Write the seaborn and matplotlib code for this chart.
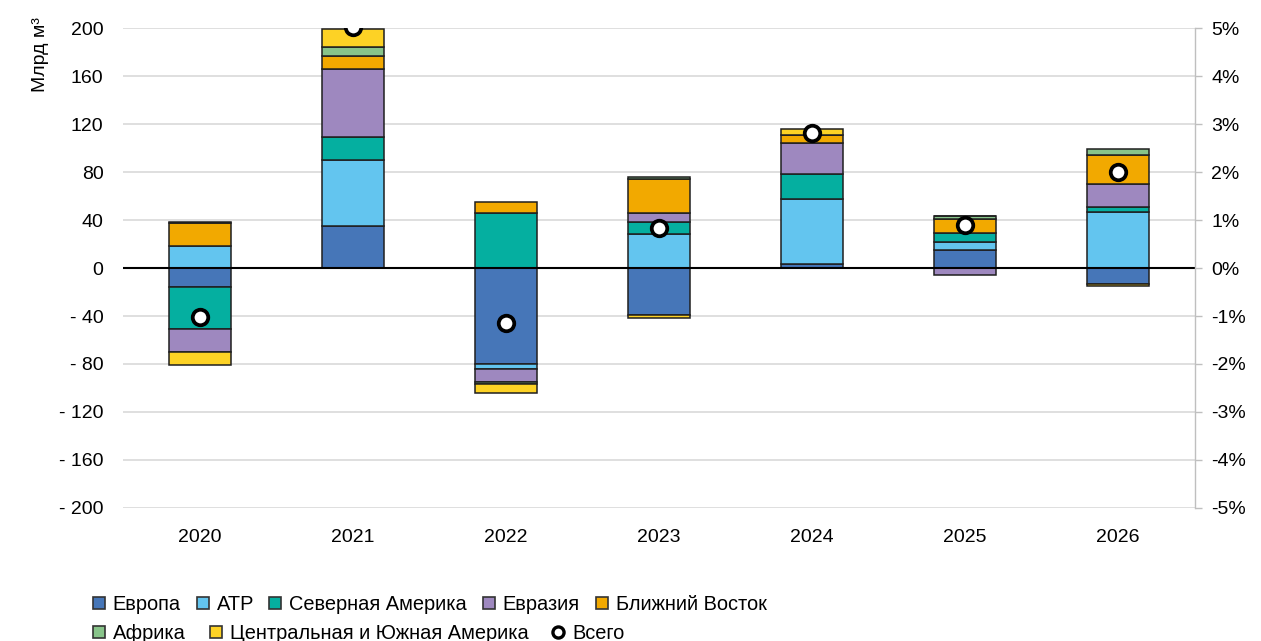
import matplotlib
matplotlib.use("Agg")
import matplotlib.pyplot as plt
from matplotlib.lines import Line2D
from matplotlib.ticker import FixedLocator, FuncFormatter
import numpy as np
import pandas as pd
import seaborn as sns

# Annual change in gas demand by region, bcm
years = ["2020", "2021", "2022", "2023", "2024", "2025", "2026"]
europe = [-16.0, 35.0, -79.7, -39.2, 3.0, 15.0, -13.6]
apac = [18.0, 55.0, -4.7, 28.0, 54.2, 6.4, 46.4]
north_america = [-35.0, 19.4, 45.6, 10.3, 20.8, 7.5, 4.4]
eurasia = [-19.0, 56.2, -10.3, 7.8, 26.4, -6.0, 19.5]
middle_east = [19.5, 11.0, 9.7, 28.0, 6.2, 11.7, 23.9]
africa = [0.7, 7.5, -2.3, 1.5, 0.0, 2.7, 5.2]
south_america = [-10.5, 14.7, -7.4, -2.8, 5.0, 0.0, -1.2]
# Total growth, % (right axis)
total_pct = [-1.02, 5.02, -1.15, 0.83, 2.81, 0.90, 2.00]

series_names = ["Европа", "АТР", "Северная Америка", "Евразия",
                "Ближний Восток", "Африка", "Центральная и Южная Америка"]
series_values = [europe, apac, north_america, eurasia, middle_east, africa, south_america]
colors = ["#4676B8", "#63C5EF", "#05AFA0", "#9E88BF", "#F2A900", "#88C48A", "#FDD225"]
total_name = "Всего"

left_ticks = [200, 160, 120, 80, 40, 0, -40, -80, -120, -160, -200]

sns.set_theme(style="white")
plt.rcParams["font.family"] = ["Liberation Sans", "DejaVu Sans"]
plt.rcParams["text.color"] = "black"

fig = plt.figure(figsize=(12.61, 6.41), dpi=100)
ax = fig.add_axes([0.0975, 0.2075, 0.8500, 0.7488])

df = pd.DataFrame({name: vals for name, vals in zip(series_names, series_values)}, index=years)
x = np.arange(len(years))
pos_base = np.zeros(len(years))
neg_base = np.zeros(len(years))
for name, color in zip(series_names, colors):
    vals = df[name].to_numpy()
    bottoms = np.where(vals >= 0, pos_base, neg_base)
    ax.bar(x, vals, bottom=bottoms, width=0.405, color=color,
           edgecolor="#1f1f1f", linewidth=1.1, zorder=3)
    pos_base += np.where(vals >= 0, vals, 0)
    neg_base += np.where(vals < 0, vals, 0)

ax.set_xlim(-0.5, len(years) - 0.5)
ax.set_ylim(-200, 200)
ax.yaxis.set_major_locator(FixedLocator(left_ticks))
ax.yaxis.set_major_formatter(FuncFormatter(lambda v, p: f"- {abs(int(v))}" if v < 0 else f"{int(v)}"))
ax.set_xticks(x)
ax.set_xticklabels(years)
ax.grid(axis="y", color="#d9d9d9", linewidth=1.2, zorder=0)
ax.axhline(0, color="black", linewidth=1.5, zorder=5)
for s in ax.spines.values():
    s.set_visible(False)
ax.tick_params(axis="x", length=0, pad=15, labelsize=14, colors="black")
ax.tick_params(axis="y", length=0, pad=14, labelsize=14, colors="black")
ax.set_ylabel("Млрд м³", fontsize=14, color="black")
ax.yaxis.set_label_coords(-0.069, 0.944)

# Total growth on the secondary axis
ax2 = ax.twinx()
pct_df = pd.DataFrame({"year": x, "pct": total_pct})
sns.scatterplot(data=pct_df, x="year", y="pct", ax=ax2, s=125, color="white",
                edgecolor="black", linewidth=2.7, zorder=6, legend=False)
ax2.set_ylim(-5, 5)
ax2.set_xlim(-0.5, len(years) - 0.5)
ax2.yaxis.set_major_locator(FixedLocator(np.arange(-5, 6, 1)))
ax2.yaxis.set_major_formatter(FuncFormatter(lambda v, p: f"{int(round(v))}%"))
ax2.set_ylabel("")
ax2.set_xlabel("")
for side in ["top", "left", "bottom"]:
    ax2.spines[side].set_visible(False)
ax2.spines["right"].set_color("#bfbfbf")
ax2.spines["right"].set_linewidth(1.0)
ax2.tick_params(axis="y", direction="out", length=5, width=1, color="#bfbfbf",
                pad=7, labelsize=14, labelcolor="black")
ax2.grid(False)

# Legend in two rows
def square(c):
    return Line2D([], [], marker="s", markersize=9, markerfacecolor=c,
                  markeredgecolor="#333333", markeredgewidth=1.2, linestyle="none")

row1 = [square(c) for c in colors[:5]]
row2 = [square(c) for c in colors[5:]] + [
    Line2D([], [], marker="o", markersize=8, markerfacecolor="white",
           markeredgecolor="black", markeredgewidth=2.4, linestyle="none")]
leg_kw = dict(frameon=False, fontsize=14.4, handlelength=0.8, handletextpad=0.3,
              borderpad=0, borderaxespad=0, loc="center left", labelcolor="black")
fig.legend(row1, series_names[:5], ncol=5, columnspacing=0.68,
           bbox_to_anchor=(0.072, 0.057), **leg_kw)
fig.legend(row2, series_names[5:] + [total_name], ncol=3, columnspacing=1.1,
           bbox_to_anchor=(0.072, 0.012), **leg_kw)

fig.savefig("out.png", dpi=100)
